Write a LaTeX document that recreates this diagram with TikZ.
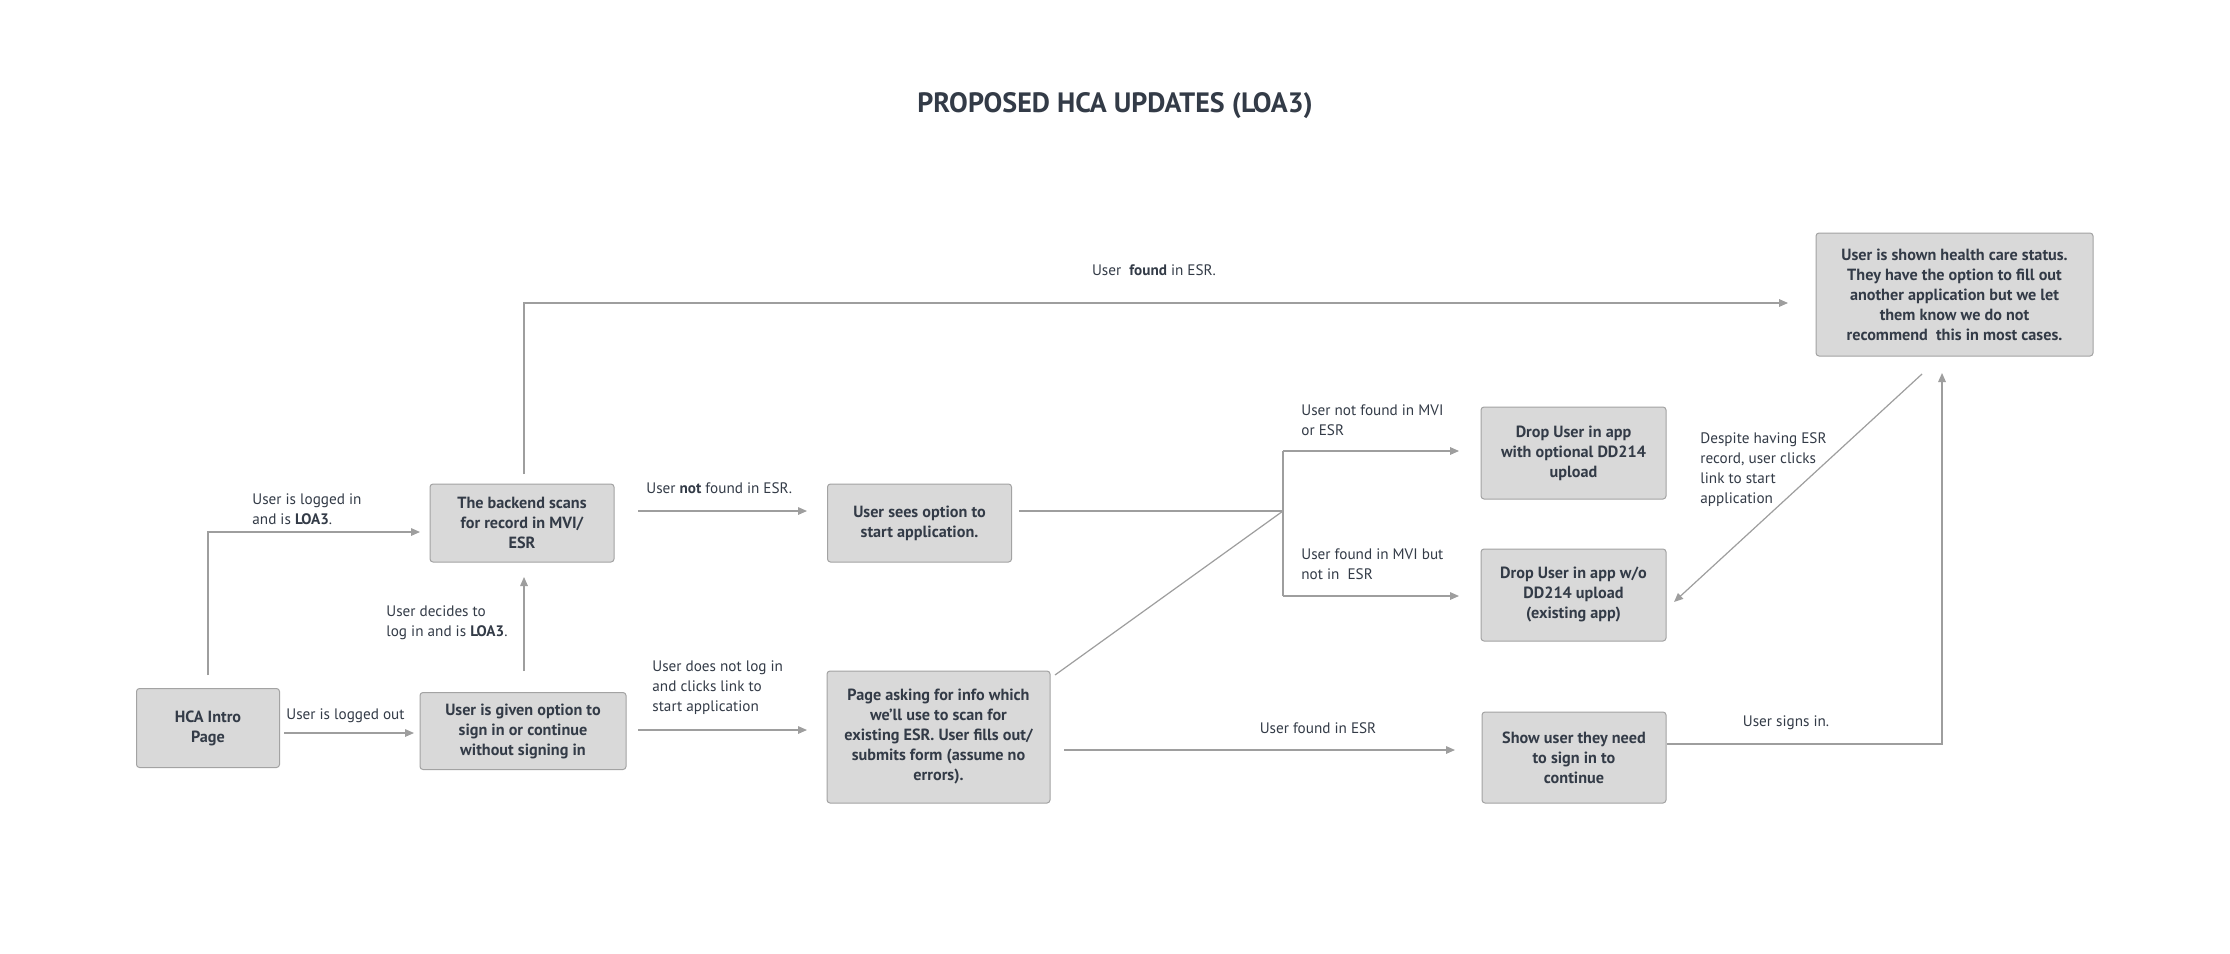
\documentclass[tikz,border=0pt]{standalone}
\usepackage{fontspec}
\setmainfont{PT Sans}
\usetikzlibrary{arrows.meta}
\definecolor{txt}{HTML}{333B47}
\definecolor{boxfill}{HTML}{D9D9D9}
\definecolor{boxline}{HTML}{A3A3A3}
\definecolor{conn}{HTML}{9E9E9E}
\tikzset{
  box/.style={draw=boxline, fill=boxfill, rounded corners=1.5pt, line width=0.5pt,
    text=txt, font=\fontsize{8.1}{10}\selectfont\bfseries, align=center,
    inner sep=0pt, anchor=center},
  lab/.style={text=txt, font=\fontsize{7.6}{10}\selectfont, align=left, inner sep=0pt},
  conn/.style={draw=conn, line width=0.6pt},
  arr/.style={conn, -{Triangle[length=4.5pt,width=3.8pt]}},
}
\begin{document}
\begin{tikzpicture}[x=0.5pt,y=-0.5pt]
\useasboundingbox (0,0) rectangle (2230,953);
\fill[white] (0,0) rectangle (2230,953);

\node[text=txt, font=\fontsize{14}{16}\selectfont\bfseries] (title) at (1115,106) {PROPOSED HCA UPDATES (LOA3)};

% boxes
\node[box, minimum width=71.5pt, minimum height=39.5pt] (hca) at (208,728) {HCA Intro\\Page};
\node[box, minimum width=92pt, minimum height=39pt] (backend) at (522,523) {The backend scans\\for record in MVI/\\ESR};
\node[box, minimum width=103pt, minimum height=38.5pt] (option) at (523,731) {User is given option to\\sign in or continue\\without signing in};
\node[box, minimum width=92pt, minimum height=39pt] (sees) at (919.5,523) {User sees option to\\start application.};
\node[box, minimum width=111.5pt, minimum height=66pt] (page) at (938.5,737) {Page asking for info which\\we’ll use to scan for\\existing ESR. User fills out/\\submits form (assume no\\errors).};
\node[box, minimum width=92.5pt, minimum height=46pt] (drop1) at (1573.5,453) {Drop User in app\\with optional DD214\\upload};
\node[box, minimum width=92.5pt, minimum height=46pt] (drop2) at (1573.5,595) {Drop User in app w/o\\DD214 upload\\(existing app)};
\node[box, minimum width=92pt, minimum height=45.5pt] (show) at (1574,757.5) {Show user they need\\to sign in to\\continue};
\node[box, minimum width=138.5pt, minimum height=61.5pt] (status) at (1954.5,294.5) {User is shown health care status.\\They have the option to fill out\\another application but we let\\them know we do not\\recommend\ \ this in most cases.};

% connector end points
\coordinate (hcaTop) at (208,675);
\coordinate (backIn) at (420,532);
\coordinate (hcaR) at (284,733);
\coordinate (optL) at (414,733);
\coordinate (optTop) at (524,671);
\coordinate (backBot) at (524,577);
\coordinate (backTop) at (524,474);
\coordinate (statusL) at (1788,303);
\coordinate (backR) at (638,511);
\coordinate (seesL) at (807,511);
\coordinate (optR) at (638,730);
\coordinate (pageL) at (807,730);
\coordinate (seesR) at (1019,511);
\coordinate (junc) at (1283,511);
\coordinate (pageTR) at (1055,675);
\coordinate (jTop) at (1283,451);
\coordinate (jBot) at (1283,596);
\coordinate (drop1L) at (1459,451);
\coordinate (drop2L) at (1459,596);
\coordinate (pageR) at (1064,750);
\coordinate (showL) at (1455,750);
\coordinate (showR) at (1667,744);
\coordinate (corner) at (1942,744);
\coordinate (statusB) at (1942,373);
\coordinate (statusBL) at (1922,374);
\coordinate (drop2R) at (1674,602);

% connectors
\draw[arr] (hcaTop) |- (backIn);
\draw[arr] (hcaR) -- (optL);
\draw[arr] (optTop) -- (backBot);
\draw[arr] (backTop) |- (statusL);
\draw[arr] (backR) -- (seesL);
\draw[arr] (optR) -- (pageL);
\draw[conn] (seesR) -- (junc);
\draw[conn] (pageTR) -- (junc);
\draw[conn] (jBot) -- (jTop);
\draw[arr] (jTop) -- (drop1L);
\draw[arr] (jBot) -- (drop2L);
\draw[arr] (pageR) -- (showL);
\draw[arr] (showR) -- (corner) -- (statusB);
\draw[arr] (statusBL) -- (drop2R);

% labels
\node[lab, anchor=west] (l1) at (252,509) {User is logged in\\and is \textbf{LOA3}.};
\node[lab, anchor=west] (l2) at (286,716) {User is logged out};
\node[lab, anchor=west] (l3) at (386,623) {User decides to\\log in and is \textbf{LOA3}.};
\node[lab] (l4) at (1154,270) {User\ \ \textbf{found} in ESR.};
\node[lab, anchor=west] (l5) at (646,488) {User \textbf{not} found in ESR.};
\node[lab, anchor=west] (l6) at (652,688) {User does not log in\\and clicks link to\\start application};
\node[lab, anchor=west] (l7) at (1301,420) {User not found in MVI\\or ESR};
\node[lab, anchor=west] (l8) at (1301,564) {User found in MVI but\\not in\ \ ESR};
\node[lab] (l9) at (1318,728) {User found in ESR};
\node[lab] (l10) at (1786,723) {User signs in.};
\node[lab, anchor=west] (l11) at (1700,470) {Despite having ESR\\record, user clicks\\link to start\\application};
\end{tikzpicture}
\end{document}
